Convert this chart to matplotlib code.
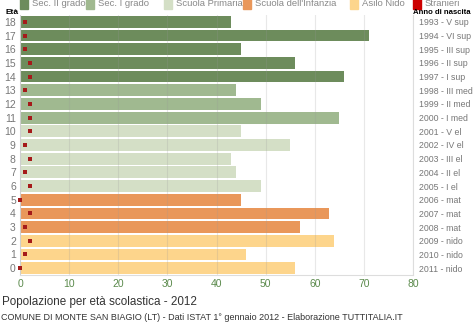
import matplotlib.pyplot as plt
from matplotlib.patches import Rectangle

plt.rcParams['font.family'] = ['Liberation Sans', 'DejaVu Sans']

# età 0..18, popolazione e stranieri
eta = list(range(19))
popolazione = [56, 46, 64, 57, 63, 45, 49, 44, 43, 55, 45, 65, 49, 44, 66, 56, 45, 71, 43]
stranieri = [0, 1, 2, 1, 2, 0, 2, 1, 2, 1, 2, 2, 2, 1, 2, 2, 1, 1, 1]
anno = ['2011 - nido', '2010 - nido', '2009 - nido', '2008 - mat', '2007 - mat',
        '2006 - mat', '2005 - I el', '2004 - II el', '2003 - III el', '2002 - IV el',
        '2001 - V el', '2000 - I med', '1999 - II med', '1998 - III med',
        '1997 - I sup', '1996 - II sup', '1995 - III sup', '1994 - VI sup',
        '1993 - V sup']
livello = ['nido'] * 3 + ['inf'] * 3 + ['prim'] * 5 + ['sec1'] * 3 + ['sec2'] * 5

colori = {'sec2': '#6d8c5c', 'sec1': '#a0b990', 'prim': '#d4dfc6',
          'inf': '#e9975a', 'nido': '#fdd58c'}
voci = [('Sec. II grado', '#6d8c5c'), ('Sec. I grado', '#a0b990'),
        ('Scuola Primaria', '#d4dfc6'), ("Scuola dell'Infanzia", '#e9975a'),
        ('Asilo Nido', '#fdd58c'), ('Stranieri', '#cc0000')]

fig = plt.figure(figsize=(4.74, 3.26), dpi=100)
ax = fig.add_axes([20 / 474, (326 - 275) / 326, 393 / 474, 260 / 326])

ax.barh(eta, popolazione, height=0.86, color=[colori[l] for l in livello], zorder=1)
ax.scatter(stranieri, eta, marker='s', s=12, color='#a51a1a', linewidths=0,
           zorder=4, clip_on=False)

ax.set_xlim(0, 80)
ax.set_ylim(-0.5, 18.5)
ax.set_xticks(range(0, 81, 10))
ax.set_yticks(eta)
ax.set_yticklabels([str(e) for e in eta])
ax.tick_params(axis='x', length=0, labelsize=7.5, labelcolor='#5b8a4c', pad=3)
ax.tick_params(axis='y', length=0, labelsize=7.5, labelcolor='#777777', pad=3)
ax.xaxis.grid(True, color='#999999', alpha=0.22, linewidth=0.8, zorder=2)
ax.set_axisbelow(False)
for s in ['left', 'bottom', 'right']:
    ax.spines[s].set_color('#dddddd')
ax.spines['top'].set_visible(False)

ax2 = ax.twinx()
ax2.set_ylim(ax.get_ylim())
ax2.set_yticks(eta)
ax2.set_yticklabels(anno)
ax2.tick_params(axis='y', length=0, labelsize=6.3, labelcolor='#777777', pad=4)
for s in ax2.spines.values():
    s.set_visible(False)

fig.text(5 / 474, 1 - 13 / 326, 'Età', fontsize=6, fontweight='bold', va='center')
fig.text(413 / 474, 1 - 13 / 326, 'Anno di nascita', fontsize=5.6, fontweight='bold',
         va='center')

# legenda in alto
xs = [20, 86, 164, 243, 350, 413]
for (nome, col), x in zip(voci, xs):
    fig.patches.append(Rectangle((x / 474, 1 - 9 / 326), 8 / 474, 10 / 326,
                                 transform=fig.transFigure, color=col))
    fig.text((x + 12) / 474, 1 - 4 / 326, nome, fontsize=6.8, color='#888888',
             va='center')

fig.text(2 / 474, 1 - 302 / 326, 'Popolazione per età scolastica - 2012',
         fontsize=8.4, color='#333333', va='center')
fig.text(1 / 474, 1 - 318 / 326,
         'COMUNE DI MONTE SAN BIAGIO (LT) - Dati ISTAT 1° gennaio 2012 - Elaborazione TUTTITALIA.IT',
         fontsize=6.5, color='#333333', va='center')

fig.savefig('out.png', dpi=100)
